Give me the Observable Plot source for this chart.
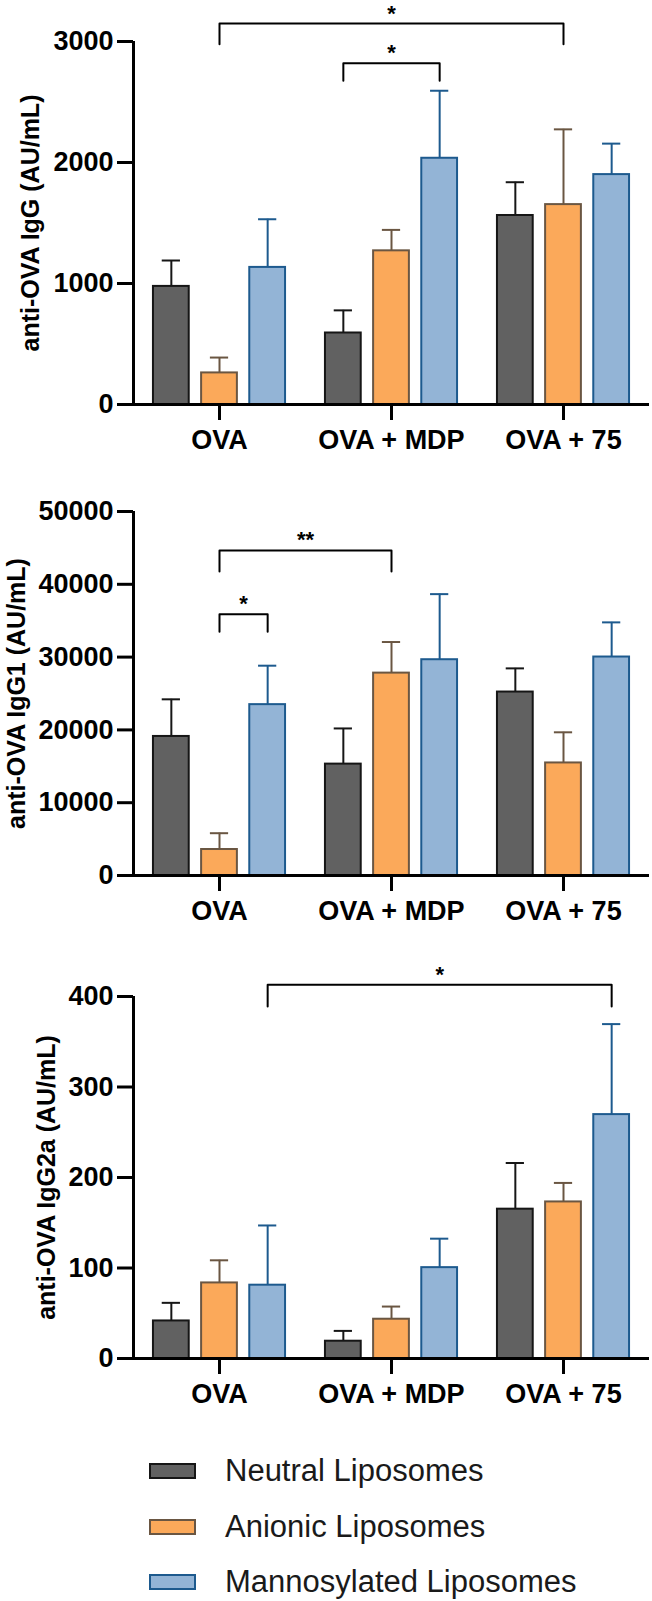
<!DOCTYPE html>
<html><head><meta charset="utf-8">
<script src="https://cdn.jsdelivr.net/npm/d3@7"></script>
<script src="https://cdn.jsdelivr.net/npm/@observablehq/plot@0.6"></script>
<style>
html,body{margin:0;padding:0;background:#fff;width:652px;height:1601px;overflow:hidden;font-family:"Liberation Sans",Arial,sans-serif;}
#wrap{width:652px;height:1601px;position:relative;overflow:hidden;}
#wrap svg{display:block;}
.legend{position:relative;width:652px;height:183px;}
.row{position:absolute;left:149px;height:36px;display:flex;align-items:center;white-space:nowrap;}
.sw{width:43px;height:12px;border:2px solid;margin-right:29px;box-sizing:content-box;flex:none;}
.row span{font-size:31px;color:#1a1a1a;}
</style></head><body><div id="wrap"></div>
<script>
// categories
const groups = ["OVA", "OVA + MDP", "OVA + 75"];
const series = ["Neutral Liposomes", "Anionic Liposomes", "Mannosylated Liposomes"];
const fills = ["#616161", "#fba95a", "#93b4d6"];
const strokes = ["#161616", "#6a5642", "#1d5a8e"];

// anti-OVA IgG (AU/mL): mean and SD per group
const iggNeutral = [976, 591, 1562];
const iggNeutralSD = [214, 187, 275];
const iggAnionic = [261, 1270, 1652];
const iggAnionicSD = [127, 173, 622];
const iggManno = [1133, 2035, 1900];
const iggMannoSD = [398, 558, 256];
const iggTicks = [0, 1000, 2000, 3000];

// anti-OVA IgG1 (AU/mL)
const igg1Neutral = [19100, 15300, 25200];
const igg1NeutralSD = [5100, 4900, 3250];
const igg1Anionic = [3570, 27800, 15460];
const igg1AnionicSD = [2240, 4270, 4210];
const igg1Manno = [23470, 29640, 30010];
const igg1MannoSD = [5350, 9010, 4760];
const igg1Ticks = [0, 10000, 20000, 30000, 40000, 50000];

// anti-OVA IgG2a (AU/mL)
const igg2aNeutral = [41.5, 19.1, 165];
const igg2aNeutralSD = [20, 11.4, 51];
const igg2aAnionic = [83.5, 43.4, 173];
const igg2aAnionicSD = [25, 14, 21];
const igg2aManno = [81, 100.4, 269.5];
const igg2aMannoSD = [66, 32, 100];
const igg2aTicks = [0, 100, 200, 300, 400];

// significance brackets: [group, series] endpoints, bracket top, leg end, label
const iggBrackets = [
  {g1: 0, s1: 1, g2: 2, s2: 1, top: 3148, leg: 2978, label: "*"},
  {g1: 1, s1: 0, g2: 1, s2: 2, top: 2821, leg: 2675, label: "*"}
];
const igg1Brackets = [
  {g1: 0, s1: 1, g2: 1, s2: 1, top: 44650, leg: 41770, label: "**"},
  {g1: 0, s1: 1, g2: 0, s2: 2, top: 35870, leg: 33490, label: "*"}
];
const igg2aBrackets = [
  {g1: 0, s1: 2, g2: 2, s2: 2, top: 413, leg: 389, label: "*"}
];

const seriesOffset = [-0.28, 0, 0.28];
const barHalf = 0.104, capHalf = 0.053;
const xDomain = [-0.5, groups.length - 0.5];
const pos = (g, s) => g + seriesOffset[s];

function rowsFrom(means, sds) {
  const rows = [];
  groups.forEach((grp, g) => {
    means.forEach((m, s) => rows.push({g, s, value: m[g], sd: sds[s][g]}));
  });
  return rows;
}

function panel(cfg) {
  const rows = rowsFrom(cfg.means, cfg.sds);
  const yMax = cfg.ticks[cfg.ticks.length - 1];
  const bpts = [];
  cfg.brackets.forEach((b, i) => {
    bpts.push({id: i, x: pos(b.g1, b.s1), y: b.leg});
    bpts.push({id: i, x: pos(b.g1, b.s1), y: b.top});
    bpts.push({id: i, x: pos(b.g2, b.s2), y: b.top});
    bpts.push({id: i, x: pos(b.g2, b.s2), y: b.leg});
  });
  return Plot.plot({
    width: 652,
    height: cfg.height,
    marginLeft: 133,
    marginRight: 3,
    marginTop: cfg.marginTop,
    marginBottom: 60,
    style: {fontFamily: '"Liberation Sans", Arial, sans-serif', color: "#000", background: "#fff", overflow: "visible"},
    x: {type: "linear", domain: xDomain},
    y: {domain: [0, yMax]},
    color: {type: "identity"},
    marks: [
      Plot.ruleX(rows, {x: d => pos(d.g, d.s), y1: d => d.value, y2: d => d.value + d.sd, stroke: d => strokes[d.s], strokeWidth: 2}),
      Plot.ruleY(rows, {x1: d => pos(d.g, d.s) - capHalf, x2: d => pos(d.g, d.s) + capHalf, y: d => d.value + d.sd, stroke: d => strokes[d.s], strokeWidth: 2}),
      Plot.rect(rows, {x1: d => pos(d.g, d.s) - barHalf, x2: d => pos(d.g, d.s) + barHalf, y1: 0, y2: d => d.value, fill: d => fills[d.s], stroke: d => strokes[d.s], strokeWidth: 2}),
      Plot.line(bpts, {x: "x", y: "y", z: "id", stroke: "#000", strokeWidth: 2}),
      Plot.text(cfg.brackets, {x: b => (pos(b.g1, b.s1) + pos(b.g2, b.s2)) / 2, y: "top", text: "label", dy: -10, fontSize: 22, fontWeight: "bold", fill: "#000"}),
      Plot.ruleY([0], {stroke: "#000", strokeWidth: 3}),
      Plot.ruleX([xDomain[0]], {y1: 0, y2: yMax, stroke: "#000", strokeWidth: 3}),
      Plot.axisY({ticks: cfg.ticks, tickFormat: d => String(d), tickSize: 16, tickPadding: 4, strokeWidth: 3, fontSize: 27, fontWeight: "bold", label: null}),
      Plot.axisX({ticks: groups.map((_, i) => i), tickFormat: i => groups[i], tickSize: 16, tickPadding: 9, strokeWidth: 3, fontSize: 27, fontWeight: "bold", label: null}),
      Plot.text([cfg.label], {frameAnchor: "left", textAnchor: "middle", lineAnchor: "middle", rotate: -90, dx: cfg.labelDx, fontSize: 25, fontWeight: "bold", fill: "#000"})
    ]
  });
}

const wrap = document.getElementById("wrap");
wrap.appendChild(panel({
  means: [iggNeutral, iggAnionic, iggManno], sds: [iggNeutralSD, iggAnionicSD, iggMannoSD],
  ticks: iggTicks, brackets: iggBrackets, label: "anti-OVA IgG (AU/mL)", labelDx: -103,
  height: 464, marginTop: 41
}));
wrap.appendChild(panel({
  means: [igg1Neutral, igg1Anionic, igg1Manno], sds: [igg1NeutralSD, igg1AnionicSD, igg1MannoSD],
  ticks: igg1Ticks, brackets: igg1Brackets, label: "anti-OVA IgG1 (AU/mL)", labelDx: -117,
  height: 471, marginTop: 47
}));
wrap.appendChild(panel({
  means: [igg2aNeutral, igg2aAnionic, igg2aManno], sds: [igg2aNeutralSD, igg2aAnionicSD, igg2aMannoSD],
  ticks: igg2aTicks, brackets: igg2aBrackets, label: "anti-OVA IgG2a (AU/mL)", labelDx: -87,
  height: 483, marginTop: 61
}));

const legend = document.createElement("div");
legend.className = "legend";
const rowTops = [35, 90.5, 146];
series.forEach((name, s) => {
  const row = document.createElement("div");
  row.className = "row";
  row.style.top = rowTops[s] + "px";
  const sw = document.createElement("div");
  sw.className = "sw";
  sw.style.background = fills[s];
  sw.style.borderColor = strokes[s];
  const label = document.createElement("span");
  label.textContent = name;
  row.appendChild(sw);
  row.appendChild(label);
  legend.appendChild(row);
});
wrap.appendChild(legend);
</script></body></html>
